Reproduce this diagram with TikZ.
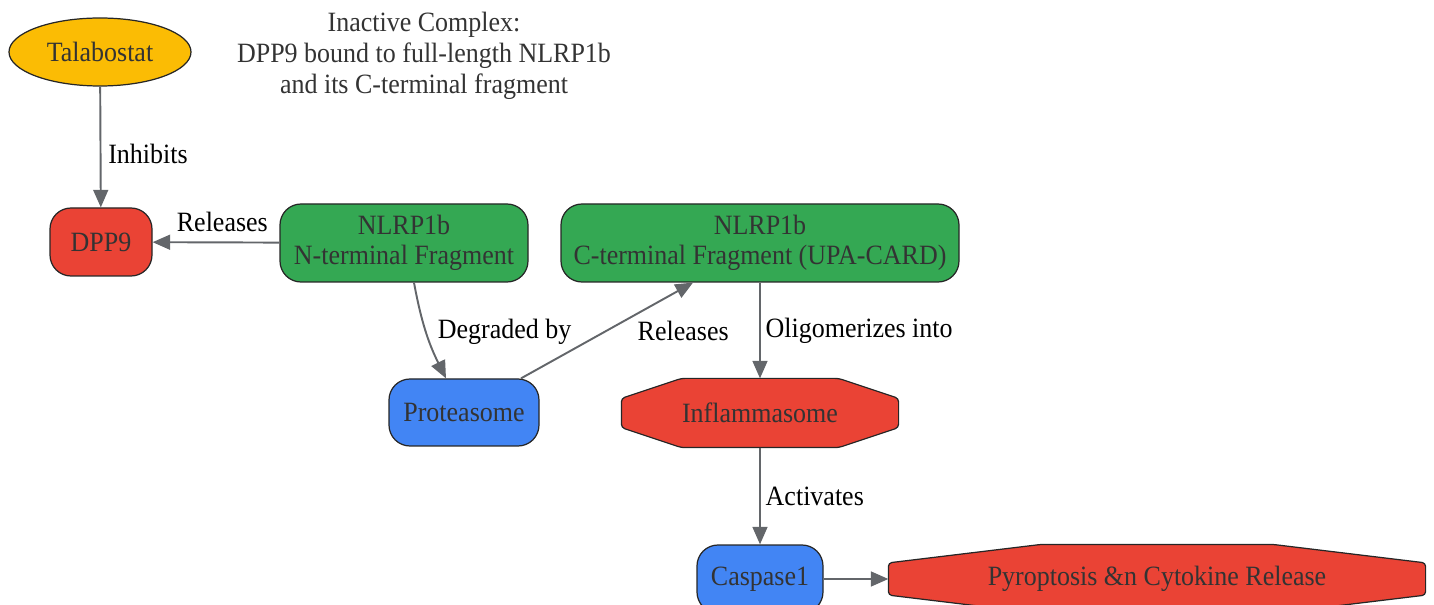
\documentclass[tikz,border=0pt]{standalone}
\usepackage{fontspec}
\setmainfont[FakeStretch=0.93]{Liberation Serif}
\usetikzlibrary{arrows.meta,shapes.geometric,backgrounds,calc}

\definecolor{talayellow}{HTML}{FBBC04}
\definecolor{alarmred}{HTML}{EA4335}
\definecolor{nlrgreen}{HTML}{34A853}
\definecolor{protblue}{HTML}{4285F4}
\definecolor{edgegray}{HTML}{63666A}
\definecolor{inkgray}{HTML}{333333}

\tikzset{
  base/.style={draw=black!85, line width=0.7pt, text=inkgray, align=center,
    font=\fontsize{15.9}{17.2}\selectfont, inner sep=0pt},
  drug/.style={base, ellipse, fill=talayellow, minimum width=3.64cm, minimum height=1.36cm},
  redbox/.style={base, rounded corners=0.42cm, fill=alarmred},
  greenbox/.style={base, rounded corners=0.42cm, fill=nlrgreen},
  bluebox/.style={base, rounded corners=0.42cm, fill=protblue},
  octbox/.style={base, draw=none, minimum height=1.36cm},
  link/.style={draw=edgegray, line width=1.1pt, -{Triangle[length=10pt,width=8.5pt]}},
  tag/.style={font=\fontsize{15.9}{17.6}\selectfont, text=black, inner sep=1pt},
}

% octagon behind a node: node, x inset, y inset
\newcommand{\octfill}[3]{%
  \filldraw[fill=alarmred, draw=black!85, line width=0.7pt, rounded corners=2pt]
    ($(#1.north west)+(#2,0)$) -- ($(#1.north east)+(-#2,0)$)
    -- ($(#1.north east)+(0,-#3)$) -- ($(#1.south east)+(0,#3)$)
    -- ($(#1.south east)+(-#2,0)$) -- ($(#1.south west)+(#2,0)$)
    -- ($(#1.south west)+(0,#3)$) -- ($(#1.north west)+(0,-#3)$) -- cycle;}

\begin{document}
\begin{tikzpicture}
  \useasboundingbox (0,0) rectangle (28.68,-12.1);

  \node[drug] (talabostat) at (2.0,-1.04) {Talabostat};
  \node[tag, align=center, text=inkgray] (complex) at (8.48,-1.12)
    {Inactive Complex:\\DPP9 bound to full-length NLRP1b\\and its C-terminal fragment};

  \node[redbox, minimum width=2.04cm, minimum height=1.36cm] (dpp9) at (2.02,-4.84) {DPP9};
  \node[greenbox, minimum width=4.96cm, minimum height=1.56cm] (nterm) at (8.08,-4.86)
    {NLRP1b\\N-terminal Fragment};
  \node[greenbox, minimum width=7.96cm, minimum height=1.56cm] (cterm) at (15.2,-4.86)
    {NLRP1b\\C-terminal Fragment (UPA-CARD)};

  \node[bluebox, minimum width=3.0cm, minimum height=1.34cm] (proteasome) at (9.28,-8.25) {Proteasome};
  \node[octbox, minimum width=5.52cm] (inflammasome) at (15.2,-8.26) {Inflammasome};

  \node[bluebox, minimum width=2.52cm, minimum height=1.36cm] (caspase) at (15.2,-11.58) {Caspase1};
  \node[octbox, minimum width=10.72cm] (pyroptosis) at (23.14,-11.58) {Pyroptosis \&n Cytokine Release};

  \begin{scope}[on background layer]
    \octfill{inflammasome}{1.2cm}{0.4cm}
    \octfill{pyroptosis}{3.06cm}{0.37cm}
  \end{scope}

  \draw[link] (talabostat) -- node[tag, anchor=west, pos=0.56, xshift=0.1cm] {Inhibits} (dpp9);
  \draw[link] (nterm) -- node[tag, anchor=south, pos=0.45, yshift=0.16cm] {Releases} (dpp9);
  \draw[link] ([xshift=0.2cm]nterm.south) to[bend right=8]
    node[tag, anchor=west, pos=0.5, xshift=0.18cm] {Degraded by} ([xshift=-0.36cm]proteasome.north);
  \draw[link] ([xshift=1.14cm]proteasome.north) --
    node[tag, anchor=west, pos=0.5, xshift=0.56cm] {Releases} ([xshift=-1.34cm]cterm.south);
  \draw[link] (cterm) -- node[tag, anchor=west, xshift=0.06cm] {Oligomerizes into} (inflammasome);
  \draw[link] (inflammasome) -- node[tag, anchor=west, xshift=0.06cm] {Activates} (caspase);
  \draw[link] (caspase) -- (pyroptosis);
\end{tikzpicture}
\end{document}
